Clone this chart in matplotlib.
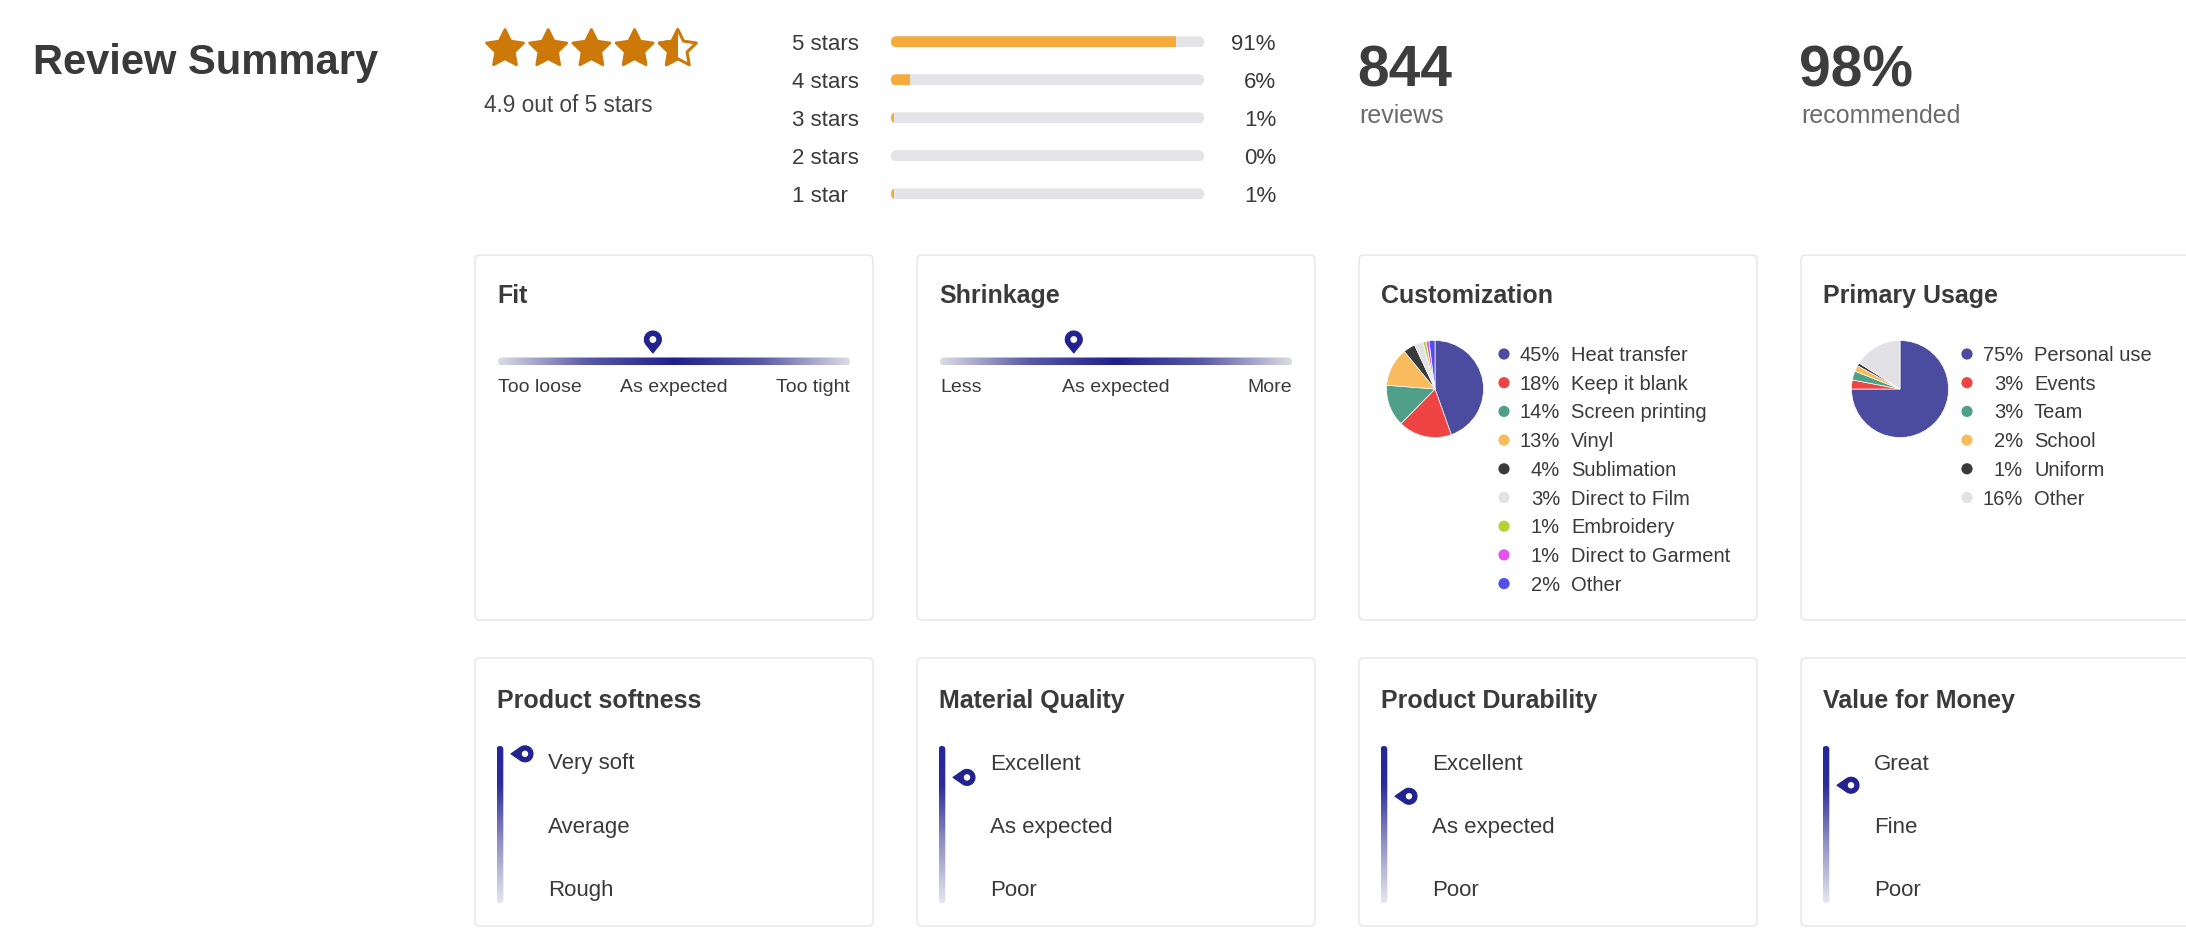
import numpy as np
import matplotlib.pyplot as plt
import matplotlib.transforms as mtransforms
from matplotlib.patches import FancyBboxPatch, Polygon, Circle, Rectangle
from matplotlib.colors import LinearSegmentedColormap

plt.rcParams['font.family'] = ['Liberation Sans', 'DejaVu Sans']

# ---- data ----
rating = 4.9
review_count = 844
recommend_pct = 98

star_labels = ['5 stars', '4 stars', '3 stars', '2 stars', '1 star']
star_pcts = [91, 6, 1, 0, 1]

fit_labels = ['Too loose', 'As expected', 'Too tight']
fit_value = 0.44          # 0 = too loose, 1 = too tight
shrink_labels = ['Less', 'As expected', 'More']
shrink_value = 0.38       # 0 = less, 1 = more

custom_labels = ['Heat transfer', 'Keep it blank', 'Screen printing', 'Vinyl', 'Sublimation',
                 'Direct to Film', 'Embroidery', 'Direct to Garment', 'Other']
custom_pcts = [45, 18, 14, 13, 4, 3, 1, 1, 2]
custom_colors = ['#4b4b9f', '#ee4444', '#4f9f89', '#f8bb5e', '#3a3a3a',
                 '#e2e2e6', '#b3d235', '#e553ef', '#4f4fee']

usage_labels = ['Personal use', 'Events', 'Team', 'School', 'Uniform', 'Other']
usage_pcts = [75, 3, 3, 2, 1, 16]
usage_colors = ['#4b4b9f', '#ee4444', '#4f9f89', '#f8bb5e', '#3a3a3a', '#e2e2e6']

scale_titles = ['Product softness', 'Material Quality', 'Product Durability', 'Value for Money']
scale_labels = [['Very soft', 'Average', 'Rough'],
                ['Excellent', 'As expected', 'Poor'],
                ['Excellent', 'As expected', 'Poor'],
                ['Great', 'Fine', 'Poor']]
scale_values = [0.05, 0.20, 0.32, 0.25]   # 0 = top label, 1 = bottom label

# ---- figure in pixel coordinates ----
W, H = 2186, 948
DARK = '#3a3a3a'
NAVY = '#23238f'
STAR = '#cd790a'

fig = plt.figure(figsize=(W / 100, H / 100), dpi=100)
ax = fig.add_axes([0, 0, 1, 1])
ax.set_xlim(0, W)
ax.set_ylim(H, 0)
ax.set_autoscale_on(False)
ax.axis('off')


def px_axes(x0, y0, x1, y1):
    a = fig.add_axes([x0 / W, 1 - y1 / H, (x1 - x0) / W, (y1 - y0) / H])
    a.set_facecolor('none')
    return a


def pin(cx, cy, r, d, tip_angle):
    # map pin, tip_angle in degrees (pixel coords, y down): 90 = down, 180 = left
    phi = np.deg2rad(tip_angle)
    th = np.arccos(r / d)
    a = np.linspace(phi + th, phi + 2 * np.pi - th, 60)
    pts = np.column_stack([cx + r * np.cos(a), cy + r * np.sin(a)])
    tip = [cx + d * np.cos(phi), cy + d * np.sin(phi)]
    pts = np.vstack([pts, tip])
    ax.add_patch(Polygon(pts, closed=True, facecolor=NAVY, edgecolor=NAVY, lw=0.8,
                         joinstyle='round', zorder=5))
    ax.add_patch(Circle((cx, cy), 0.4 * r, facecolor='white', edgecolor='none', zorder=6))


def star_pts(cx, cy, R, k=0.5):
    ang = -np.pi / 2 + np.arange(10) * np.pi / 5
    rad = np.where(np.arange(10) % 2 == 0, R, R * k)
    return np.column_stack([cx + rad * np.cos(ang), cy + rad * np.sin(ang)])


def gradient(x0, y0, x1, y1, data, cmap):
    im = ax.imshow(data, cmap=cmap, extent=(x0, x1, y1, y0), aspect='auto',
                   interpolation='bilinear', vmin=0, vmax=1, zorder=3)
    rr = min(x1 - x0, y1 - y0) / 2
    clip = FancyBboxPatch((x0, y0), x1 - x0, y1 - y0,
                          boxstyle=f'round,pad=0,rounding_size={rr}', transform=ax.transData)
    im.set_clip_path(clip)


# ---- header ----
ax.text(33, 74, 'Review Summary', fontsize=30, fontweight='bold', color=DARK, va='baseline')

shown = np.floor(rating * 2) / 2
for i in range(5):
    cx, cy = 505 + i * 43.2, 49
    pts = star_pts(cx, cy, 19.5)
    fill = min(max(shown - i, 0), 1)
    if fill >= 1:
        ax.add_patch(Polygon(pts, facecolor=STAR, edgecolor=STAR, lw=2, joinstyle='round', zorder=4))
    else:
        ax.add_patch(Polygon(pts, facecolor='white', edgecolor=STAR, lw=2.2, joinstyle='round', zorder=4))
        if fill > 0:
            half = Polygon(pts, facecolor=STAR, edgecolor=STAR, lw=2, joinstyle='round', zorder=5)
            ax.add_patch(half)
            box = Rectangle((cx - 25, cy - 25), 25 + (fill - 0.5) * 39, 50, transform=ax.transData)
            half.set_clip_path(box)
ax.text(484, 111.5, f'{rating} out of 5 stars', fontsize=16.3, color='#444444', va='baseline')

ax_b = px_axes(891, 22.8, 1204, 212.8)
ax_b.set_xlim(0, 100)
ax_b.set_ylim(4.5, -0.5)
ax_b.axis('off')
rows = np.arange(len(star_labels))
bg = ax_b.barh(rows, [100] * len(rows), height=0.29, color='#e3e3e8')
fg = ax_b.barh(rows, star_pcts, height=0.29, color='#f6ab3d')
# rounded ends
ma = (313 / 100) / (190 / 5)
for b, f in zip(bg, fg):
    clip = FancyBboxPatch((b.get_x(), b.get_y()), b.get_width(), b.get_height(),
                          boxstyle='round,pad=0,rounding_size=1.75', mutation_aspect=ma,
                          transform=ax_b.transData)
    b.set_clip_path(clip)
    f.set_clip_path(clip)
tr = mtransforms.blended_transform_factory(ax.transData, ax_b.transData)
for i, (lbl, p) in enumerate(zip(star_labels, star_pcts)):
    ax_b.text(792, i + 0.21, lbl, transform=tr, fontsize=16, color=DARK, va='baseline')
    ax_b.text(1276, i + 0.21, f'{p}%', transform=tr, fontsize=16, color=DARK,
              va='baseline', ha='right')

ax.text(1357, 86, f'{review_count}', fontsize=41, fontweight='bold', color='#3d3d3d', va='baseline')
ax.text(1359, 122.7, 'reviews', fontsize=18, color='#6b6b6b', va='baseline')
ax.text(1799, 86, f'{recommend_pct}%', fontsize=41, fontweight='bold', color='#3d3d3d', va='baseline')
ax.text(1801, 122.7, 'recommended', fontsize=18, color='#6b6b6b', va='baseline')

# ---- cards ----
col_x = [475, 917, 1359, 1801]
card_w = 398
rows_y = [(255, 620), (658, 926)]
for (y0, y1) in rows_y:
    for x0 in col_x:
        ax.add_patch(FancyBboxPatch((x0, y0), card_w, y1 - y0,
                                    boxstyle='round,pad=0,rounding_size=5',
                                    facecolor='white', edgecolor='#e6e6e6', lw=1.0, zorder=1))

# horizontal sliders
hcmap = LinearSegmentedColormap.from_list('h', ['#1f1f8c', '#5a5aa8', '#dcdce4'])
for x0, title, labels, val in [(col_x[0], 'Fit', fit_labels, fit_value),
                               (col_x[1], 'Shrinkage', shrink_labels, shrink_value)]:
    ax.text(x0 + 22, 303, title, fontsize=18, fontweight='bold', color=DARK, va='baseline')
    tx0, tx1 = x0 + 23, x0 + card_w - 23
    grad = np.abs(np.linspace(-1, 1, 256))[None, :]
    gradient(tx0, 357.5, tx1, 365.5, grad, hcmap)
    pin(tx0 + val * (tx1 - tx0), 339.5, 8.5, 13.5, 90)
    ax.text(tx0, 392, labels[0], fontsize=14, color=DARK, va='baseline', ha='left')
    ax.text((tx0 + tx1) / 2, 392, labels[1], fontsize=14, color=DARK, va='baseline', ha='center')
    ax.text(tx1, 392, labels[2], fontsize=14, color=DARK, va='baseline', ha='right')

# pie cards
for x0, title, pcts, labels, colors, pcx, dot_dx, pct_dx, lbl_dx in [
        (col_x[2], 'Customization', custom_pcts, custom_labels, custom_colors, 1435, 145, 201, 212),
        (col_x[3], 'Primary Usage', usage_pcts, usage_labels, usage_colors, 1900, 166, 222, 233)]:
    ax.text(x0 + 22, 303, title, fontsize=18, fontweight='bold', color=DARK, va='baseline')
    r = 49
    ax_p = px_axes(pcx - r, 389 - r, pcx + r, 389 + r)
    ax_p.pie(pcts, colors=colors, startangle=90, counterclock=False,
             wedgeprops=dict(edgecolor='white', linewidth=0.5))
    ax_p.set_xlim(-1.01, 1.01)
    ax_p.set_ylim(-1.01, 1.01)
    for i, (p, lbl, c) in enumerate(zip(pcts, labels, colors)):
        yc = 354 + i * 28.7
        ax.scatter(x0 + dot_dx, yc, s=65, color=c, edgecolors='none', zorder=4)
        ax.text(x0 + pct_dx, yc + 7, f'{p}%', fontsize=14.5, color=DARK, va='baseline', ha='right')
        ax.text(x0 + lbl_dx, yc + 7, lbl, fontsize=14.5, color=DARK, va='baseline')

# vertical scales
vcmap = LinearSegmentedColormap.from_list('v', [(0, '#25259a'), (0.25, '#2c2c9b'),
                                                (0.6, '#8d8dc3'), (1, '#e6e6ee')])
for x0, title, labels, val in zip(col_x, scale_titles, scale_labels, scale_values):
    ax.text(x0 + 22, 708, title, fontsize=18, fontweight='bold', color=DARK, va='baseline')
    bx = x0 + 25
    gradient(bx - 3.3, 746, bx + 3.3, 903, np.linspace(0, 1, 256)[:, None], vcmap)
    pin(x0 + 50, 746 + val * 157, 8, 14, 180)
    for j, lbl in enumerate(labels):
        ax.text(x0 + 73, 769.5 + j * 63.3, lbl, fontsize=16, color=DARK, va='baseline')

fig.savefig('out.png', dpi=100, facecolor='white')
